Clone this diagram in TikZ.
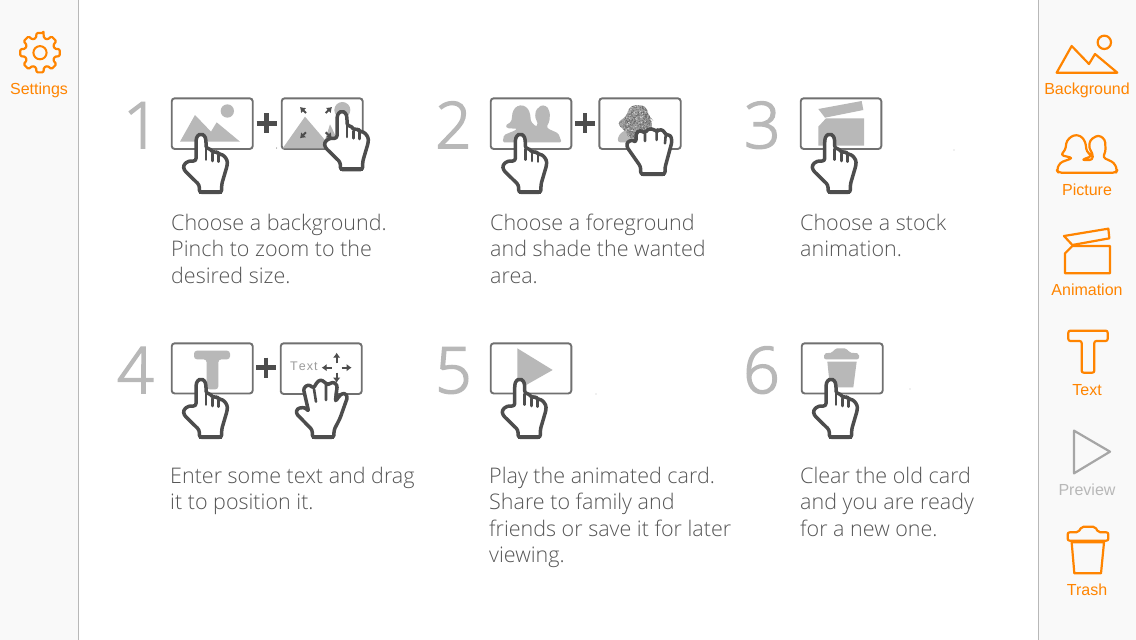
\documentclass[tikz,border=0pt]{standalone}
\usepackage{fontspec}
\setmainfont{Liberation Sans}
\newfontfamily\lightfont{Open Sans Light}
\newfontfamily\digitfont[FakeBold=2.5]{Open Sans Light}
\usetikzlibrary{arrows.meta}
\definecolor{ink}{HTML}{4D4D4D}
\definecolor{boxline}{HTML}{707070}
\definecolor{fillgray}{HTML}{B8B8B8}
\definecolor{orng}{HTML}{FF8400}
\definecolor{panel}{HTML}{F9F9F9}
\definecolor{bodytext}{HTML}{555555}
\tikzset{
 zoomed/.style={x=0.33333pt,y=-0.33333pt},
 card/.style={draw=boxline,line width=1.9pt,rounded corners=3pt,fill=white},
 handline/.style={draw=ink,line width=3.5pt,line join=round,line cap=round,fill=white},
 handsep/.style={draw=ink,line width=2.6pt,line cap=round},
 icon/.style={draw=orng,line width=2.2pt,line join=round},
 plusline/.style={draw=ink,line width=4.6pt},
 digit/.style={anchor=base west,inner sep=0pt,text=fillgray,font=\digitfont\fontsize{64}{64}\selectfont},
 para/.style={anchor=north west,inner sep=0pt,align=left,text=bodytext,font=\lightfont\fontsize{21.5}{26.5}\selectfont},
 sidelabel/.style={inner sep=0pt,text=orng,font=\fontsize{16}{16}\selectfont},
 movearrow/.style={draw=ink,line width=2pt,-{Latex[length=5pt,width=7.5pt]}},
 pointhand/.pic={
  \begin{scope}[zoomed]
   \path[handline,rounded corners=2.5pt] (258,228) -- (235,228) -- (220,240) -- (222,255) -- (268,300) -- (268,322) -- (335,322) -- (335,298) -- (352,240) -- (352,225) -- (338,208) -- (325,208) -- (320,198) -- (308,204) -- (303,192) -- (288,190) -- (288,165) -- (284,151) -- (273,147) -- (262,151) -- (258,165) -- cycle;
   \path[handsep] (288,192) -- (288,224) (308,206) -- (308,228) (326,210) -- (326,230);
   \path[draw=ink,line width=4pt] (268,321) -- (335,321);
  \end{scope}},
 fisthand/.pic={
  \begin{scope}[zoomed]
   \path[handline,rounded corners=2.5pt] (632,268) -- (632,245) -- (590,185) -- (592,170) -- (610,165) -- (618,172) -- (618,145) -- (630,135) -- (645,145) -- (650,135) -- (665,130) -- (680,140) -- (685,134) -- (700,135) -- (707,150) -- (722,150) -- (726,170) -- (705,248) -- (705,268) -- cycle;
   \path[handsep] (645,147) -- (645,168) (680,142) -- (680,165) (707,152) -- (705,175);
   \path[draw=ink,line width=4pt] (632,267) -- (705,267);
  \end{scope}},
 openhand/.pic={
  \begin{scope}[zoomed]
   \path[handline,rounded corners=2.5pt] (607,322) -- (607,300) -- (558,250) -- (562,235) -- (585,232) -- (596,245) -- (580,175) -- (595,163) -- (612,175) -- (618,160) -- (632,148) -- (648,160) -- (655,165) -- (668,155) -- (682,165) -- (676,215) -- (690,195) -- (703,188) -- (713,200) -- (690,265) -- (672,300) -- (672,322) -- cycle;
   \path[handsep] (612,177) -- (618,215) (648,162) -- (648,210) (680,170) -- (676,213);
   \path[draw=ink,line width=4pt] (607,321) -- (672,321);
  \end{scope}},
}
\begin{document}
\begin{tikzpicture}[x=1pt,y=-1pt]
\useasboundingbox (0,0) rectangle (1136,640);
\fill[white] (0,0) rectangle (1136,640);
% side panels
\fill[panel] (0,0) rectangle (78,640);
\fill[panel] (1038,0) rectangle (1136,640);
\draw[fillgray,line width=1pt] (78.5,0) -- (78.5,640);
\draw[fillgray,line width=1pt] (1038.5,0) -- (1038.5,640);

% digits
\node[digit] (d1) at (123,148) {1};
\node[digit] (d2) at (435,148) {2};
\node[digit] (d3) at (744,148) {3};
\node[digit] (d4) at (117,393) {4};
\node[digit] (d5) at (435,393) {5};
\node[digit] (d6) at (743,393) {6};

% step 1
\draw[card] (171.7,98.3) rectangle (252.7,149);
\begin{scope}[shift={(110,85)},zoomed]
 \fill[fillgray] (210,170) -- (255,90) -- (303,140) -- (320,112) -- (390,170) -- cycle;
 \fill[fillgray] (352,78) circle[radius=20];
\end{scope}
\draw[card] (281.7,98.3) rectangle (362.7,149);
\begin{scope}[shift={(110,85)},zoomed]
 \fill[fillgray] (518,190) -- (585,95) -- (645,165) -- (660,118) -- (695,190) -- cycle;
 \fill[fillgray] (697,75) circle[radius=24];
 \draw[movearrow] (588,84) -- (570,66);
 \draw[movearrow] (647,84) -- (666,66);
 \draw[movearrow] (588,142) -- (570,160);
 \draw[movearrow] (647,142) -- (666,160);
\end{scope}
\pic at (110,85) {pointhand};
\pic at (251,62.3) {pointhand};
\draw[plusline] (256.7,123.3) -- (276.7,123.3);
\draw[plusline] (266.7,113.3) -- (266.7,133.3);
\fill[ink] (276.7,148) circle[radius=0.5];

% step 2
\draw[card] (490.7,98.3) rectangle (571.3,149);
\begin{scope}[shift={(430,85)},zoomed]
 \fill[fillgray,rounded corners=1.5pt] (218,172) -- (222,150) -- (256,136) -- (262,131) -- (232,130) -- (226,122) -- (244,110) -- (248,80) -- (258,65) -- (275,60) -- (292,68) -- (300,85) -- (303,110) -- (318,125) -- (324,118) -- (315,95) -- (318,75) -- (335,60) -- (352,65) -- (360,85) -- (358,110) -- (350,125) -- (352,130) -- (385,145) -- (395,172) -- cycle;
\end{scope}
\draw[card] (599.3,98.3) rectangle (680.7,149);
\begin{scope}[shift={(430,85)},zoomed]
 \fill[fillgray,rounded corners=3pt] (562,172) -- (566,150) -- (585,135) -- (650,135) -- (650,172) -- cycle;
 \begin{scope}
  \clip[rounded corners=6pt] (558,115) -- (590,95) -- (600,60) -- (650,62) -- (655,95) -- (668,105) -- (660,150) -- (600,165) -- (585,135) -- cycle;
  \fill[black!38] (550,50) rectangle (680,170);
  \pgfmathsetseed{4711}
  \foreach \n in {1,...,900}{
   \pgfmathsetmacro{\px}{555+rnd*115}
   \pgfmathsetmacro{\py}{58+rnd*110}
   \fill[black!60] (\px,\py) circle[radius=1.5];
  }
  \foreach \n in {1,...,300}{
   \pgfmathsetmacro{\px}{555+rnd*115}
   \pgfmathsetmacro{\py}{58+rnd*110}
   \fill[black!15] (\px,\py) circle[radius=1.3];
  }
 \end{scope}
\end{scope}
\pic at (429.3,85) {pointhand};
\pic at (430,85) {fisthand};
\draw[plusline] (575,123.3) -- (595,123.3);
\draw[plusline] (585,113.3) -- (585,133.3);

% step 3
\draw[card] (800.7,98.3) rectangle (881.3,149);
\begin{scope}[shift={(740,85)},zoomed]
 \fill[fillgray] (235,72) -- (365,48) -- (370,75) -- (255,98) -- cycle;
 \fill[fillgray] (235,125) -- (258,100) -- (372,100) -- (372,182) -- (235,182) -- cycle;
\end{scope}
\pic at (738.7,85) {pointhand};
\fill[ink] (954,150) circle[radius=0.4];

% step 4
\draw[card] (171.7,343.3) rectangle (252.7,393.5);
\begin{scope}[shift={(110,330)},zoomed]
 \fill[fillgray,rounded corners=3pt] (252,62) -- (360,62) -- (360,88) -- (325,88) -- (325,178) -- (290,178) -- (290,88) -- (252,88) -- cycle;
\end{scope}
\draw[card] (280.7,343.3) rectangle (361.7,394);
\begin{scope}[shift={(110,330)},zoomed]
 \node[anchor=base west,inner sep=0pt,text=fillgray!85!black,font=\fontsize{12.5}{12.5}\selectfont] (tx) at (540,122) {T\kern1pt e\kern1pt x\kern1pt t};
 \draw[movearrow] (680,100) -- (680,68);
 \draw[movearrow] (680,128) -- (680,158);
 \draw[movearrow] (666,113) -- (635,113);
 \draw[movearrow] (695,113) -- (725,113);
\end{scope}
\pic at (110,330) {pointhand};
\pic at (110,330) {openhand};
\draw[plusline] (256,367.7) -- (276,367.7);
\draw[plusline] (266,357.7) -- (266,377.7);

% step 5
\draw[card] (490.7,343.3) rectangle (571.3,393.5);
\begin{scope}[shift={(430,330)},zoomed]
 \fill[fillgray] (262,55) -- (368,120) -- (262,180) -- cycle;
\end{scope}
\pic at (428.7,330) {pointhand};
\fill[ink] (596,394) circle[radius=0.4];

% step 6
\draw[card] (801.7,343.3) rectangle (882.7,393.5);
\begin{scope}[shift={(740,330)},zoomed]
 \fill[fillgray,rounded corners=2pt] (252,88) -- (252,70) -- (278,68) -- (285,55) -- (320,55) -- (328,68) -- (357,70) -- (357,88) -- cycle;
 \fill[fillgray] (262,95) -- (350,95) -- (340,172) -- (270,172) -- cycle;
\end{scope}
\pic at (740,330) {pointhand};
\fill[ink] (910,389) circle[radius=0.4];

% paragraphs
\node[para] (p1) at (171,213.5) {Choose a background.\\Pinch to zoom to the\\desired size.};
\node[para] (p2) at (490,213.5) {Choose a foreground\\and shade the wanted\\area.};
\node[para] (p3) at (800,213.5) {Choose a stock\\animation.};
\node[para] (p4) at (170,466.5) {Enter some text and drag\\it to position it.};
\node[para] (p5) at (489,466.5) {Play the animated card.\\Share to family and\\friends or save it for later\\viewing.};
\node[para] (p6) at (800,466.5) {Clear the old card\\and you are ready\\for a new one.};

% settings icon
\draw[icon,rounded corners=1.2pt] ({40+20*cos(80)},{52.7-20*sin(80)}) \foreach \a in {0,45,...,315}{ -- ({40+20*cos(100+\a)},{52.7-20*sin(100+\a)}) -- ({40+15.2*cos(105+\a)},{52.7-15.2*sin(105+\a)}) -- ({40+15.2*cos(120+\a)},{52.7-15.2*sin(120+\a)}) -- ({40+20*cos(125+\a)},{52.7-20*sin(125+\a)}) } -- cycle;
\draw[orng,line width=2pt] (40,52.7) circle[radius=6.6];
\node[sidelabel] (lset) at (39,90) {Settings};

% right icons
\begin{scope}[shift={(1040,20)},zoomed]
 \draw[icon] (50,158) -- (95,78) -- (147,132) -- (165,102) -- (232,158) -- cycle;
 \draw[icon] (193,67) circle[radius=20];
 \draw[icon,rounded corners=3pt] (55,458) -- (50,450) -- (60,428) -- (98,414) -- (62,405) -- (76,390) -- (80,362) -- (100,345) -- (122,347) -- (136,365) -- (140,395) -- (156,408) -- (125,420) -- (158,420) -- (158,400) -- (147,385) -- (150,360) -- (175,345) -- (195,358) -- (197,395) -- (188,412) -- (222,428) -- (232,450) -- (228,458) -- cycle;
 \draw[icon] (72,648) -- (205,626) -- (208,655) -- (97,675) -- cycle;
 \draw[icon] (75,700) -- (97,678) -- (210,678) -- (210,760) -- (75,760) -- cycle;
\end{scope}
\begin{scope}[shift={(1040,310)},zoomed]
 \draw[icon,rounded corners=2pt] (85,62) -- (203,62) -- (203,93) -- (163,93) -- (163,188) -- (125,188) -- (125,93) -- (85,93) -- cycle;
 \draw[draw=fillgray!90!black,line width=2.2pt,line join=round] (102,362) -- (210,425) -- (102,490) -- cycle;
 \draw[icon,rounded corners=2pt] (83,692) -- (83,667) -- (115,667) -- (125,650) -- (165,650) -- (175,667) -- (205,667) -- (205,692) -- cycle;
 \draw[icon] (95,697) -- (192,697) -- (183,790) -- (103,790) -- cycle;
\end{scope}
\node[sidelabel] (lbg) at (1087,90) {Background};
\node[sidelabel] (lpic) at (1087,190) {Picture};
\node[sidelabel] (lani) at (1087,290) {Animation};
\node[sidelabel] (ltxt) at (1087,390) {Text};
\node[sidelabel,text=fillgray] (lpre) at (1087,490) {Preview};
\node[sidelabel] (ltr) at (1087,590) {Trash};
\end{tikzpicture}
\end{document}
